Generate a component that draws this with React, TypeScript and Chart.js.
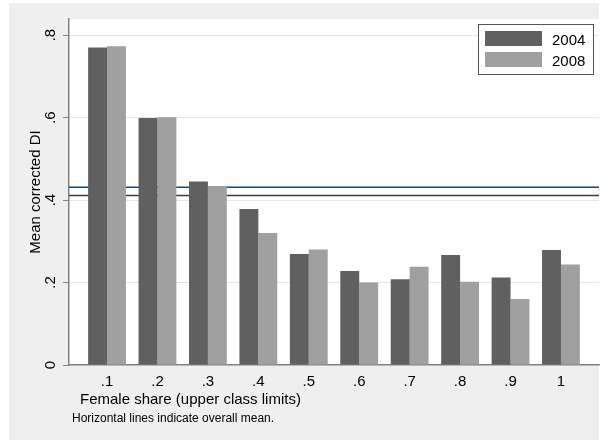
import React, { useEffect, useRef } from "react";
import { Chart, registerables } from "chart.js";

Chart.register(...registerables);

const xValues = [0.1, 0.2, 0.3, 0.4, 0.5, 0.6, 0.7, 0.8, 0.9, 1.0];
const xTickLabels = [".1", ".2", ".3", ".4", ".5", ".6", ".7", ".8", ".9", "1"];
const series2004 = [0.770, 0.599, 0.445, 0.378, 0.269, 0.228, 0.208, 0.267, 0.212, 0.279];
const series2008 = [0.773, 0.601, 0.433, 0.320, 0.280, 0.200, 0.238, 0.202, 0.160, 0.244];
const seriesNames = ["2004", "2008"];
const overallMeans = [0.431, 0.411];
const yTickValues = [0, 0.2, 0.4, 0.6, 0.8];
const yTickLabels = ["0", ".2", ".4", ".6", ".8"];
const yTitle = "Mean corrected DI";
const xTitle = "Female share (upper class limits)";
const noteText = "Horizontal lines indicate overall mean.";

const DARK = "#606060";
const LIGHT = "#a0a0a0";
const MEAN_COLORS = ["#1a476f", "#3c3c3c"];
const FONT = "Liberation Sans, Arial, sans-serif";

export default function App() {
  const ref = useRef<HTMLCanvasElement | null>(null);

  useEffect(() => {
    document.body.style.margin = "0";
    const canvas = ref.current;
    if (!canvas) return;

    const decor = {
      id: "decor",
      beforeDraw(chart: any) {
        const { ctx, chartArea } = chart;
        ctx.save();
        ctx.fillStyle = "#ffffff";
        ctx.fillRect(0, 0, chart.width, chart.height);
        ctx.fillStyle = "#efefef";
        ctx.fillRect(9, 3, 590, 437);
        ctx.fillStyle = "#ffffff";
        ctx.fillRect(chartArea.left, chartArea.top, chartArea.right - chartArea.left, chartArea.bottom - chartArea.top);
        ctx.restore();
      },
      beforeDatasetsDraw(chart: any) {
        const { ctx, chartArea, scales } = chart;
        ctx.save();
        overallMeans.forEach((m, i) => {
          const y = scales.y.getPixelForValue(m);
          ctx.strokeStyle = MEAN_COLORS[i];
          ctx.lineWidth = 1.5;
          ctx.beginPath();
          ctx.moveTo(chartArea.left, y);
          ctx.lineTo(chartArea.right, y);
          ctx.stroke();
        });
        ctx.restore();
      },
      afterDraw(chart: any) {
        const { ctx, chartArea, scales } = chart;
        ctx.save();
        ctx.fillStyle = "#000000";
        ctx.font = `15px ${FONT}`;
        ctx.textAlign = "center";
        ctx.textBaseline = "alphabetic";
        xValues.forEach((v, i) => {
          ctx.fillText(xTickLabels[i], scales.x.getPixelForValue(v), 386);
        });
        yTickValues.forEach((v, i) => {
          const y = scales.y.getPixelForValue(v);
          ctx.save();
          ctx.translate(55, y);
          ctx.rotate(-Math.PI / 2);
          ctx.textAlign = "center";
          ctx.fillText(yTickLabels[i], 0, 0);
          ctx.restore();
        });
        ctx.save();
        ctx.translate(40, (chartArea.top + chartArea.bottom) / 2);
        ctx.rotate(-Math.PI / 2);
        ctx.textAlign = "center";
        ctx.fillText(yTitle, 0, 0);
        ctx.restore();
        ctx.textAlign = "left";
        ctx.fillText(xTitle, 80, 404);
        ctx.font = `12px ${FONT}`;
        ctx.fillText(noteText, 72, 422);
        const lx = chartArea.right - 121;
        const ly = chartArea.top + 5;
        ctx.fillStyle = "#ffffff";
        ctx.fillRect(lx, ly, 115, 50);
        ctx.strokeStyle = "#555555";
        ctx.lineWidth = 1;
        ctx.strokeRect(lx + 0.5, ly + 0.5, 115, 50);
        const cols = [DARK, LIGHT];
        ctx.font = `15px ${FONT}`;
        seriesNames.forEach((name, i) => {
          ctx.fillStyle = cols[i];
          ctx.fillRect(lx + 7, ly + 7 + i * 21, 57, 15);
          ctx.fillStyle = "#000000";
          ctx.textAlign = "left";
          ctx.fillText(name, lx + 74, ly + 21 + i * 21);
        });
        ctx.restore();
      },
    };

    const chart = new Chart(canvas, {
      type: "bar",
      data: {
        datasets: [
          {
            label: seriesNames[0],
            data: xValues.map((x, i) => ({ x, y: series2004[i] })),
            backgroundColor: DARK,
            borderWidth: 0,
            categoryPercentage: 0.75,
            barPercentage: 1,
          },
          {
            label: seriesNames[1],
            data: xValues.map((x, i) => ({ x, y: series2008[i] })),
            backgroundColor: LIGHT,
            borderWidth: 0,
            categoryPercentage: 0.75,
            barPercentage: 1,
          },
        ],
      },
      options: {
        responsive: false,
        animation: false,
        devicePixelRatio: 1,
        layout: { padding: { left: 69, top: 19, right: 3, bottom: 75 } },
        plugins: {
          legend: { display: false },
          tooltip: { enabled: false },
        },
        scales: {
          x: {
            type: "linear",
            offset: false,
            min: 0.1 - 0.0754,
            max: 1.0 + 0.0754,
            afterBuildTicks: (s: any) => {
              s.ticks = xValues.map((v) => ({ value: v }));
            },
            afterFit: (s: any) => {
              s.height = 0;
            },
            ticks: { display: false },
            grid: { display: false, drawTicks: false, offset: false },
            border: { display: true, color: "#808080", width: 1.5 },
          },
          y: {
            min: 0,
            max: 0.839,
            afterBuildTicks: (s: any) => {
              s.ticks = yTickValues.map((v) => ({ value: v }));
            },
            afterFit: (s: any) => {
              s.width = 0;
            },
            ticks: { display: false },
            grid: {
              display: true,
              drawTicks: true,
              tickLength: 6,
              tickColor: "#808080",
              color: (c: any) => (c.tick && c.tick.value === 0 ? "rgba(0,0,0,0)" : "#e6e6e6"),
              lineWidth: 1,
            },
            border: { display: true, color: "#808080", width: 1.5 },
          },
        },
      },
      plugins: [decor],
    });

    return () => chart.destroy();
  }, []);

  return (
    <div style={{ width: 602, height: 440 }}>
      <canvas ref={ref} width={602} height={440} style={{ display: "block" }} />
    </div>
  );
}
